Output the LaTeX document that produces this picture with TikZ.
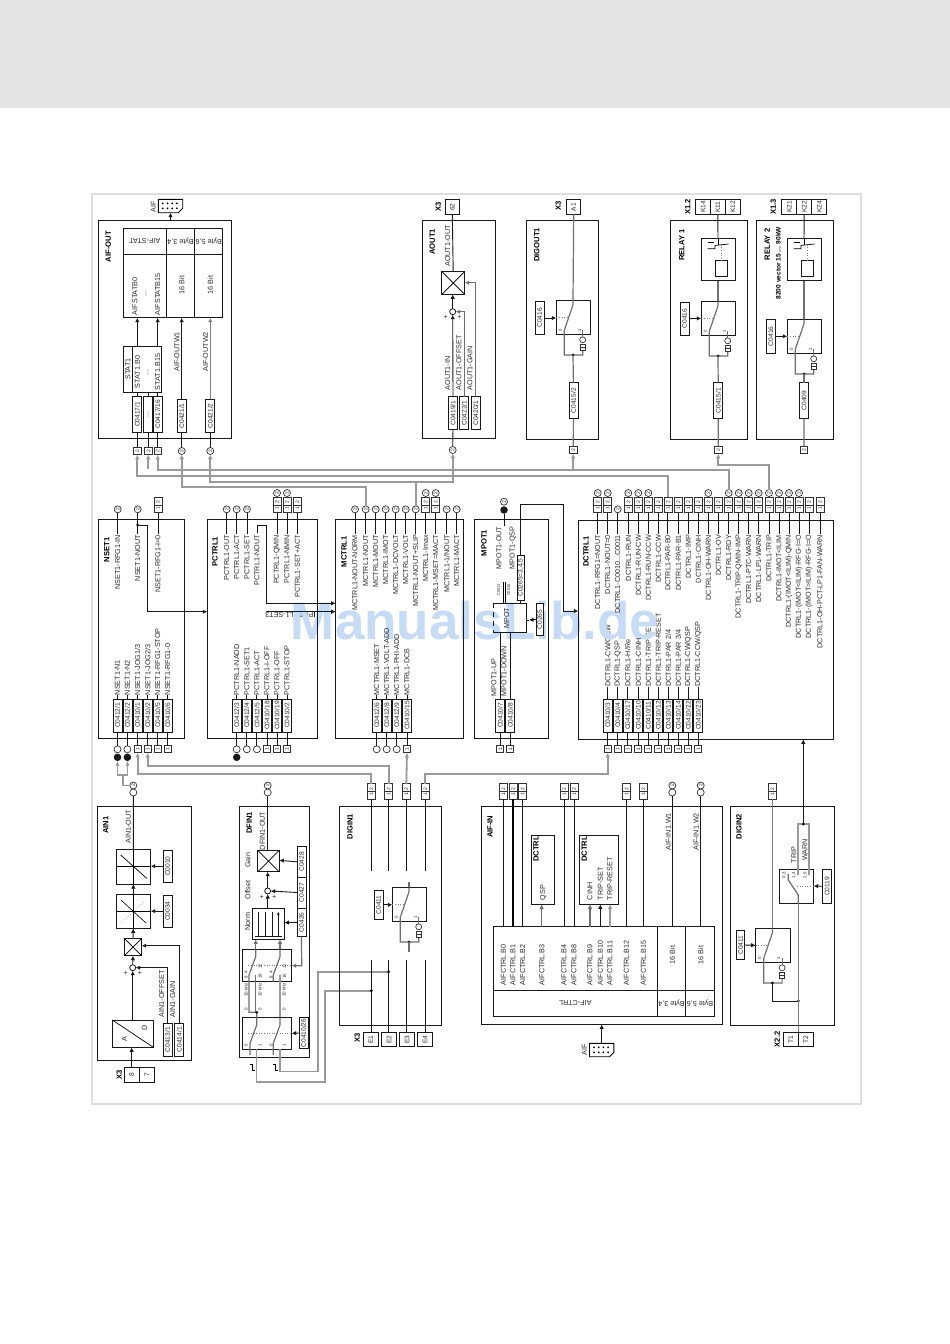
\documentclass[tikz,border=0pt]{standalone}
\usepackage{fontspec}
\usepackage{graphicx}
\setmainfont{Liberation Sans}
\usetikzlibrary{arrows.meta,calc}
\definecolor{txt}{HTML}{2A2A2A}
\definecolor{gy}{HTML}{9A9A9A}
\definecolor{swg}{HTML}{707070}
\definecolor{band}{HTML}{E4E4E4}
\definecolor{framec}{HTML}{DEDEDE}
\definecolor{wm}{HTML}{C6DCF6}
\newcount\nn
\tikzset{
 x=1pt,y=-1pt,
 ln/.style={line width=.9pt,color=black!90},
 gl/.style={line width=1.8pt,color=gy},
 swl/.style={line width=1.2pt,color=swg},
 arr/.style={-{Latex[length=4.5pt,width=4.5pt]}},
 blockb/.style={draw=black!90,line width=.9pt,inner sep=0pt,outer sep=0pt},
 cbox/.style={draw=black!90,line width=.8pt,inner sep=0pt,outer sep=0pt,fill=white,text=txt,font=\fontsize{6.6}{7}\selectfont},
 lab/.style={inner sep=0pt,outer sep=0pt,text=txt,font=\fontsize{7.2}{8}\selectfont},
 smalllab/.style={inner sep=0pt,text=txt,font=\fontsize{4.4}{5}\selectfont,rotate=90},
 bd/.style={inner sep=0pt,text=black,font=\fontsize{7.6}{8}\selectfont\bfseries,rotate=90},
 mk/.style={draw=black!80,line width=.7pt,inner sep=0pt,outer sep=0pt,fill=white,text=txt,font=\fontsize{5}{5}\selectfont},
 dotn/.style={circle,fill=black,inner sep=0pt,outer sep=0pt,minimum size=3pt},
 sumn/.style={circle,draw=black!90,line width=.8pt,fill=white,inner sep=0pt,outer sep=0pt,minimum size=6pt},
}
\newcommand\LabT[3]{\global\advance\nn by 1\relax\node[lab,rotate=90,anchor=east] (t\the\nn) at (#1,#2) {#3};}
\newcommand\LabB[3]{\global\advance\nn by 1\relax\node[lab,rotate=90,anchor=west] (t\the\nn) at (#1,#2) {#3};}
\newcommand\LabC[3]{\global\advance\nn by 1\relax\node[lab,rotate=90] (t\the\nn) at (#1,#2) {#3};}
\newcommand\LabU[3]{\global\advance\nn by 1\relax\node[lab,rotate=180] (t\the\nn) at (#1,#2) {#3};}
\newcommand\Bd[3]{\global\advance\nn by 1\relax\node[bd] (t\the\nn) at (#1,#2) {#3};}
\newcommand\Tiny[3]{\global\advance\nn by 1\relax\node[smalllab] (t\the\nn) at (#1,#2) {#3};}
\newcommand\CB[6][9]{\pgfmathsetmacro\hh{#5-#4}\pgfmathsetmacro\yy{(#4+#5)/2}\node[cbox,minimum width=#1pt,minimum height=\hh pt] (#2) at (#3,\yy) {\rotatebox{90}{#6}};}
\newcommand\Blk[5]{\pgfmathsetmacro\ww{#4-#2}\pgfmathsetmacro\hh{#5-#3}\pgfmathsetmacro\xx{(#2+#4)/2}\pgfmathsetmacro\yy{(#3+#5)/2}\node[blockb,minimum width=\ww pt,minimum height=\hh pt] (#1) at (\xx,\yy) {};}
\newcommand\MkO[3]{\node[mk,circle,minimum size=7pt] (#1) at (#2,#3) {};}
\newcommand\MkT[3]{\node[mk,circle,minimum size=7pt] (#1) at (#2,#3) {\rotatebox{90}{2}};}
\newcommand\MkF[3]{\node[circle,fill=black!90,inner sep=0pt,outer sep=0pt,minimum size=7.5pt] (#1) at (#2,#3) {};}
\newcommand\MkI[3]{\node[mk,minimum size=7pt] (#1) at (#2,#3) {\rotatebox{90}{1}};}
\newcommand\MkZ[3]{\node[mk,minimum size=7.5pt] (#1) at (#2,#3) {\rotatebox{90}{2}};}
\newcommand\MkW[3]{\node[mk,minimum width=8pt,minimum height=15.5pt] (#1) at (#2,#3) {\rotatebox{90}{1\hspace{2.5pt}2}};\draw[line width=.6pt,color=black!80] (#1.west)--(#1.east);}
\newcommand\Term[5]{\pgfmathsetmacro\ww{#3-#2}\pgfmathsetmacro\xx{(#2+#3)/2}\node[cbox,minimum width=\ww pt,minimum height=14.6pt] (#1) at (\xx,#4) {\rotatebox{90}{#5}};}
\newcommand\InB[6]{\CB{#1}{#2}{699}{732}{#3}\LabB{#2}{#5}{#4}\draw[ln](#1.north)--(#2,#5);#6{#1m}{#2}{749.3}\draw[ln](#1.south)--(#1m.north);}
\newcommand\Ot[3]{\MkT{#1}{#2}{509.3}\LabT{#2}{535}{#3}\draw[ln](#1.south)--(#2,534);}
\newcommand\OtW[3]{\MkW{#1}{#2}{505}\LabT{#2}{535}{#3}\draw[ln](#1.south)--(#2,534);}
\newcommand\OtC[3]{\MkW{#1}{#2}{505}\MkT{#1c}{#2}{493}\LabT{#2}{535}{#3}\draw[ln](#1.south)--(#2,534);}
\newcommand\SwU[3]{\begin{scope}[shift={(#2,#3)}]
\node[blockb,minimum width=34.4pt,minimum height=34pt,anchor=north west] (#1) at (0,0) {};
\coordinate (#1t) at (16.7,0);\coordinate (#1b) at (16.7,54.7);\coordinate (#1l) at (0,17);
\draw[swl] (16.7,0)--(16.7,4.5)--(8,30)--(8,54.7)--(26.4,54.7)--(26.4,49.7);
\draw[line width=.6pt,color=gray,dotted] (0,17)--(12,17);
\draw[line width=.7pt,color=swg] (26.4,30)--(26.4,36.5);
\node[mk,circle,minimum size=6pt] (#1c) at (26.4,39.5) {};
\node[mk,minimum width=5pt,minimum height=6pt] (#1k) at (26.4,46.7) {};
\draw[line width=.5pt,color=black!80] (#1k.west)--(#1k.east);
\node[dotn] (#1d) at (16.7,54.7) {};
\Tiny{4}{29.5}{0}\Tiny{23}{29.5}{1}
\end{scope}}
\newcommand\RelU[3]{\begin{scope}[shift={(#2,#3)}]
\node[blockb,minimum width=34.4pt,minimum height=42pt,anchor=north west] (#1) at (0,0) {};
\node[blockb,minimum width=12.4pt,minimum height=16pt,anchor=north west] (#1q) at (14,22) {};
\draw[line width=.7pt] (6.3,4)--(13,4);
\draw[line width=.7pt] (6.3,10)--(13.7,10)--(13.7,6.7)--(27.3,5.3);
\draw[line width=.7pt] (16.7,0)--(16.7,6);
\draw[line width=.6pt,color=gray,dotted] (20.3,6)--(20.3,22);
\coordinate (#1t) at (16.7,0);\coordinate (#1b) at (16.7,42);
\end{scope}}
\newcommand\Conn[3]{\begin{scope}[shift={(#2,#3)}]
\draw[line width=.9pt,fill=white] (0,0)--(24.4,0)--(24.4,9)--(20,13.4)--(0,13.4)--cycle;
\foreach \xa in {4.5,9.2,13.9,18.6}{\fill (\xa,4)circle(1pt);\fill (\xa,9)circle(1pt);}
\coordinate (#1t) at (12.2,0);\coordinate (#1b) at (12.2,13.4);
\end{scope}}
\newcommand\Pulse[2]{\begin{scope}[shift={(#1,#2)}]\draw[line width=.7pt] (0,0)--(2.7,0)--(2.7,6)--(5.3,6);\end{scope}}
\begin{document}
\begin{tikzpicture}
\useasboundingbox (0,0) rectangle (950,1344);
\fill[white] (0,0) rectangle (950,1344);
\fill[band] (0,0) rectangle (950,108);
\draw[framec,line width=2pt] (91.5,193.5) rectangle (860.5,1104);
% labels the watermark covers
\LabU{289.3}{615}{PCTRL1-SET3}
\LabB{607.7}{686.5}{DCTRL1-CW/CCW}
\LabB{648.3}{686.5}{DCTRL1-TRIP-SET}
\LabB{658.3}{686.5}{DCTRL1-TRIP-RESET}
\node[inner sep=0pt,text=wm,font=\fontsize{53}{60}\selectfont\bfseries] (wmark) at (475,621) {ManualsLib.de};
%%%%%%% AIF-OUT
\Blk{aifout}{98.3}{220.7}{231.7}{438.3}
\Bd{108.3}{246.7}{AIF-OUT}
\Conn{cona}{158.3}{199.3}
\LabC{153.3}{206.7}{AIF}
\draw[ln,arr] (aifout.north -| conab) -- (conab);
\Blk{aoutt}{123.3}{228.3}{222.7}{317.7}
\draw[ln] (123.3,254.3)--(222.7,254.3) (166.3,228.3)--(166.3,317.7) (194.7,228.3)--(194.7,317.7);
\LabU{144.8}{241}{AIF-STAT}\LabU{180.5}{241}{Byte 3,4}\LabU{208.7}{241}{Byte 5,6}
\LabB{135}{315}{AIFSTATB0}\LabB{157.7}{315}{AIFSTATB15}\LabC{146}{293}{...}
\LabC{181.7}{285}{16 Bit}\LabC{210.3}{285}{16 Bit}
\Blk{stat}{123.3}{346}{161.7}{392.3}
\draw[ln] (132.7,346)--(132.7,392.3);
\LabC{127.8}{369}{STAT1}\LabC{137.3}{372}{STAT1.B0}\LabC{148}{372}{...}\LabC{157.7}{372}{STAT1.B15}
\CB{o1}{137.3}{396}{432.7}{C0417/1}\CB{o2}{148.3}{396}{432.7}{...}\CB{o3}{157.7}{396}{432.7}{C0417/16}
\CB{o4}{181.7}{399.3}{432.3}{C0421/1}\CB{o5}{210.3}{399.3}{432.3}{C0421/2}
\MkZ{mo1}{137.3}{451}\MkZ{mo2}{148.3}{451}\MkZ{mo3}{157.7}{451}\MkT{mo4}{181.7}{451}\MkT{mo5}{210.3}{451}
\foreach \a/\x in {o1/137.3,o2/148.3,o3/157.7}{\draw[ln] (\a.north)--(\x,392.3);}
\foreach \a in {1,2,3,4,5}{\draw[ln] (o\a.south)--(mo\a.north);}
\draw[ln,arr] (137.3,346)--(137.3,317.7);
\draw[ln,arr] (157.7,346)--(157.7,317.7);
\draw[ln,arr] (o4.north)--(181.7,317.7);
\draw[ln,color=gray,arr] (o5.north)--(210.3,317.7);
\LabB{177}{371.7}{AIF-OUTW1}\LabB{205.7}{371.7}{AIF-OUTW2}
%%%%%%% AOUT1
\Blk{aout}{422.3}{220.7}{495.7}{438.3}
\Bd{432.3}{241.7}{AOUT1}\Bd{438.3}{206.7}{X3}
\Term{t62}{445.3}{459.3}{207}{62}
\node[blockb,minimum size=22.6pt,fill=white] (ml) at (453.2,283) {};
\draw[ln] (ml.north west)--(ml.south east) (ml.north east)--(ml.south west);
\node[sumn] (sa) at (452.7,311.7) {};
\draw[ln] (t62.south)--(ml.north);
\draw[ln,arr] (sa.north)--(452.7,294.3);
\CB{a1}{453}{396.7}{429.3}{C0419/1}\CB{a2}{464.3}{396.7}{429.3}{C0422/1}\CB{a3}{475.7}{396.7}{429.3}{C0420/1}
\draw[ln,arr] (a1.north)--(sa.south);
\draw[swl,arr] (a2.north)--(464.3,311.7)--(sa.east);
\draw[swl,arr] (a3.north)--(475.7,282.7)--(464.7,282.7);
\LabB{447.7}{390}{AOUT1-IN}\LabB{459}{390}{AOUT1-OFFSET}\LabB{470}{390}{AOUT1-GAIN}
\LabT{447.7}{225}{AOUT1-OUT}
\node[lab,font=\fontsize{7}{7}\selectfont] (pa1) at (445.7,317.7) {+};\node[lab,font=\fontsize{7}{7}\selectfont] (pa2) at (459.3,317.7) {+};
\MkT{ma}{452.7}{450}\draw[ln] (a1.south)--(ma.north);
%%%%%%% DIGOUT1
\Blk{dgo}{526.3}{220.7}{598.7}{439.3}
\Bd{536.7}{245}{DIGOUT1}\Bd{558.3}{205.7}{X3}
\Term{ta1}{566.7}{580.7}{207}{A1}
\SwU{s1}{556.3}{300.3}
\draw[swl] (ta1.south)--(s1t);
\CB{c416a}{539.5}{301.7}{334.3}{C0416}
\draw[ln,arr] (c416a.east)--(556.3,318);
\CB{c4152}{573.4}{382.7}{418.7}{C0415/2}
\draw[swl] (s1b)--(c4152.north);
\MkZ{md}{573.3}{450}\draw[swl] (c4152.south)--(md.north);
%%%%%%% RELAY 1
\Blk{rl1}{670.3}{220.7}{747.3}{439.3}
\Bd{681.7}{245}{RELAY 1}\Bd{687.7}{206.7}{X1.2}
\Term{k14}{695.7}{710.3}{207}{K14}\Term{k11}{710.3}{725.3}{207}{K11}\Term{k12}{725.3}{740.3}{207}{K12}
\RelU{ru1}{701.3}{238.7}
\SwU{s2}{701.3}{301.3}
\draw[ln] (k11.south)--(ru1t);
\draw[swl] (ru1b)--(s2t);
\CB{c416b}{684.5}{302}{335.3}{C0416}
\draw[ln,arr] (c416b.east)--(701.3,318.3);
\CB{c4151}{718.2}{382.7}{418.7}{C0415/1}
\draw[swl] (s2b)--(c4151.north);
\MkZ{mr1}{718.3}{450}\draw[swl] (c4151.south)--(mr1.north);
%%%%%%% RELAY 2
\Blk{rl2}{756.7}{220.7}{833.7}{439.3}
\Bd{767.3}{244.3}{RELAY 2}\Bd{773.3}{206.7}{X1.3}
\global\advance\nn by 1\relax\node[bd,anchor=east,font=\fontsize{6.6}{7}\selectfont\bfseries] (t\the\nn) at (778.3,226.7) {8200 vector 15 ... 90kW};
\Term{k21}{781.7}{796.7}{207}{K21}\Term{k22}{796.7}{811.7}{207}{K22}\Term{k24}{811.7}{826.7}{207}{K24}
\RelU{ru2}{787.3}{238.7}
\SwU{s3}{787.3}{319.3}
\draw[ln] (k22.south)--(ru2t);
\draw[swl] (ru2b)--(s3t);
\CB{c416c}{770.8}{319.3}{353.3}{C0416}
\draw[ln,arr] (c416c.east)--(787.3,336.3);
\CB{c409}{804}{382.7}{418.7}{C0409}
\draw[swl] (s3b)--(c409.north);
\MkZ{mr2}{803.9}{450}\draw[swl] (c409.south)--(mr2.north);
%%%%%%% NSET1
\Blk{nset}{98.3}{519.3}{184.3}{738.3}
\Bd{106.7}{550}{NSET1}
\Ot{n1}{117.7}{NSET1-RFG1-IN}\Ot{n2}{137.7}{NSET1-NOUT}\OtW{n3}{158}{NSET1-RFG1-I=0}
\InB{i1}{117.5}{C0412/1}{NSET1-N1}{695}{\MkO}\InB{i2}{127.4}{C0412/2}{NSET1-N2}{695}{\MkO}
\InB{i3}{137.6}{C0410/1}{NSET1-JOG1/3}{695}{\MkI}\InB{i4}{147.7}{C0410/2}{NSET1-JOG2/3}{695}{\MkI}
\InB{i5}{157.7}{C0410/5}{NSET1-RFG1-STOP}{695}{\MkI}\InB{i6}{167.7}{C0410/6}{NSET1-RFG1-0}{695}{\MkI}
\MkF{f1}{117.5}{757.3}\MkF{f2}{127.4}{757.3}
%%%%%%% PCTRL1
\Blk{pctrl}{207.3}{519.3}{317.7}{738.3}
\Bd{215}{551.7}{PCTRL1}
\Ot{p1}{226.7}{PCTRL1-OUT}\Ot{p2}{236.7}{PCTRL1-ACT}\Ot{p3}{247}{PCTRL1-SET}
\LabT{257}{535}{PCTRL1-NOUT}
\OtC{p5}{277}{PCTRL1-QMIN}\OtC{p6}{287}{PCTRL1-NMIN}\OtW{p7}{297.3}{PCTRL1-SET+ACT}
\InB{j1}{236.7}{C0412/3}{PCTRL1-NADD}{695}{\MkO}\InB{j2}{246.8}{C0412/4}{PCTRL1-SET1}{695}{\MkO}
\InB{j3}{256.9}{C0412/5}{PCTRL1-ACT}{695}{\MkO}\InB{j4}{267}{C0410/18}{PCTRL1-I-OFF}{695}{\MkI}
\InB{j5}{277}{C0410/19}{PCTRL1-OFF}{695}{\MkI}\InB{j6}{287}{C0410/2}{PCTRL1-STOP}{695}{\MkI}
\MkF{f3}{236.7}{757.3}
%%%%%%% MCTRL1
\Blk{mctrl}{335.7}{519.3}{463.7}{738.3}
\Bd{344}{551.7}{MCTRL1}
\Ot{m1}{355}{MCTRL1-NOUT-NORM}\Ot{m2}{365.7}{MCTRL1-NOUT}\Ot{m3}{375.7}{MCTRL1-MOUT}\Ot{m4}{385.7}{MCTRL1-IMOT}
\Ot{m5}{395.7}{MCTRL1-DCVOLT}\Ot{m6}{405.7}{MCTRL1-VOLT}\Ot{m7}{415.7}{MCTRL1-NOUT+SLIP}
\OtC{m8}{425.7}{MCTRL1-Imax}\OtC{m9}{435.7}{MCTRL1-MSET=MACT}\Ot{m10}{446.7}{MCTRL1-1/NOUT}\Ot{m11}{456.7}{MCTRL1-MACT}
\InB{k1}{376.7}{C0412/6}{MCTRL1-MSET}{695}{\MkO}\InB{k2}{386.7}{C0412/8}{MCTRL1-VOLT-ADD}{695}{\MkO}
\InB{k3}{396.7}{C0412/9}{MCTRL1-PHI-ADD}{695}{\MkO}\InB{k4}{407}{C0410/15}{MCTRL1-DCB}{695}{\MkI}
%%% internal PCTRL links
\coordinate (nout) at (257,533);
\draw[ln,arr] (nout)--(257,525)--(266,525)--(266,603.3)--(mctrl.west |- 0,603.3);
\draw[ln,arr] (266,611.7)--(mctrl.west |- 0,611.7);
\draw[ln] (314,611.7)--(314,617);
\node[dotn] (ndot) at (137.7,525) {};
\draw[ln,arr] (ndot)--(147.3,525)--(147.3,611.7)--(pctrl.west |- 0,611.7);
%%%%%%% MPOT1
\Blk{mpot}{474.3}{519.3}{548.7}{738.3}
\Bd{484}{543}{MPOT1}
\MkT{q1}{504}{501.7}\MkF{q1f}{504}{510}
\LabT{499}{526.7}{MPOT1-OUT}\LabT{512.7}{526.7}{MPOT1-QSP}
\draw[ln] (q1f.south)--(504,526);
\draw[line width=.6pt] (503,582)--(503,603) (505,582)--(505,603);
\node[smalllab,font=\fontsize{4}{4}\selectfont] (q01) at (498.5,590) {C0011};
\node[smalllab,font=\fontsize{4}{4}\selectfont] (q02) at (508.7,590) {C0010};
\draw[ln] (493.3,603)--(526,603)--(526,632)--(493.3,632);
\draw[ln,dashed,dash pattern=on 5pt off 4pt] (493.3,603)--(493.3,632);
\LabC{506.7}{618}{MPOT}
\CB[7.5]{q265}{520.8}{555}{600}{C0265=3,4,5}
\draw[ln] (q265.south)--(520.8,603);
\draw[ln] (q265.north)--(520.8,504)--(563.3,504)--(563.3,611)--(570,611);
\CB[7.5]{q265b}{539.7}{603.3}{635.7}{C0265}
\draw[ln,arr] (q265b.west)--(529,620);\draw[ln] (529,620)--(526,620);
\CB{u7}{500.3}{699}{732}{C0410/7}\CB{u8}{510.3}{699}{732}{C0410/8}
\draw[ln] (u7.north)--(500.3,632) (u8.north)--(510.3,632);
\LabB{494}{696}{MPOT1-UP}\LabB{504}{696}{MPOT1-DOWN}
\MkI{u7m}{500.3}{749.3}\MkI{u8m}{510.3}{749.3}
\draw[ln] (u7.south)--(u7m.north) (u8.south)--(u8m.north);
%%%%%%% DCTRL1
\Blk{dctrl}{578.3}{520.7}{833.3}{739.3}
\Bd{586}{551.7}{DCTRL1}
\draw[ln,arr] (570,611)--(dctrl.west |- 0,611);
\OtC{d0}{597.7}{DCTRL1-RFG1=NOUT}\OtC{d1}{607.7}{DCTRL1-NOUT=0}\Ot{d2}{617.7}{DCTRL1-C0010...C0011}
\OtC{d3}{628.3}{DCTRL1-RUN}\OtC{d4}{638.3}{DCTRL1-RUN-CW}\OtC{d5}{648.3}{DCTRL1-RUN-CCW}
\OtW{d6}{658.3}{DCTRL1-CCW}\OtW{d7}{667.9}{DCTRL1-PAR-B0}\OtW{d8}{678.3}{DCTRL1-PAR-B1}
\OtW{d9}{688.3}{DCTRL1-IMP}\OtW{d10}{698.3}{DCTRL1-CINH}\OtC{d11}{708.3}{DCTRL1-OH-WARN}
\OtW{d12}{718.3}{DCTRL1-OV}\OtC{d13}{728.7}{DCTRL1-RDY}\OtC{d14}{738.7}{DCTRL1-TRIP-QMIN-IMP}
\OtC{d15}{748.7}{DCTRL1-PTC-WARN}\OtC{d16}{758.7}{DCTRL1-LP1-WARN}\OtC{d17}{769}{DCTRL1-TRIP}
\OtC{d18}{779}{DCTRL1-IMOT<ILIM}\OtC{d19}{789}{DCTRL1-(IMOT<ILIM)-QMIN}\OtC{d20}{799}{DCTRL1-(IMOT<ILIM)-RFG-I=O}
\OtW{d21}{809}{DCTRL1-(IMOT>ILIM)-RFG-I=O}\OtW{d22}{820}{DCTRL1-OH-PCT-LP1-FAN-WARN}
\newcommand\DI[3]{\CB{#1}{#2}{699}{732}{#3}\MkI{#1m}{#2}{749.3}\draw[ln](#1.south)--(#1m.north);\draw[ln](#1.north)--(#2,687);}
\DI{e1}{607.7}{C0410/3}\DI{e2}{617.7}{C0410/4}\DI{e3}{627.7}{C0410/17}\DI{e4}{638.3}{C0410/10}\DI{e5}{648.3}{C0410/11}
\DI{e6}{658.3}{C0410/12}\DI{e7}{668.3}{C0410/13}\DI{e8}{678.3}{C0410/14}\DI{e9}{688.3}{C0410/22}\DI{e10}{698.3}{C0410/23}
\LabB{617.7}{686.5}{DCTRL1-QSP}\LabB{627.7}{686.5}{DCTRL1-H/Re}\LabB{638.3}{686.5}{DCTRL1-CINH}
\LabB{668.3}{686.5}{DCTRL1-PAR 2/4}\LabB{678.3}{686.5}{DCTRL1-PAR 3/4}\LabB{688.3}{686.5}{DCTRL1-CW/QSP}\LabB{698.3}{686.5}{DCTRL1-CCW/QSP}
%%%%%%% gray bus above
\draw[gl,arr] (d13c.north)--(728.7,470)--(157.7,470)--(mo3.south);
\draw[gl,arr] (573.3,470)--(md.south);
\draw[gl,arr] (148.3,469)--(mo2.south);
\draw[gl,arr] (d7.north)--(667.9,475.7)--(137.3,475.7)--(mo1.south);
\draw[gl,arr] (m7.north)--(415.7,481.7)--(210.3,481.7)--(mo5.south);
\draw[gl,arr] (415.7,481.7)--(452.7,481.7)--(ma.south);
\draw[gl,arr] (m2.north)--(365.7,487)--(181.7,487)--(mo4.south);
\draw[gl,arr] (d17c.north)--(769,465)--(718.3,465)--(mr1.south);
%%%%%%% AIN1
\Blk{ain}{97.3}{806.7}{191.7}{1060.7}
\Bd{105.7}{825}{AIN1}
\MkT{ao}{133.3}{785.5}\MkO{ao2}{133.3}{792.5}
\LabT{128.3}{810}{AIN1-OUT}
\Blk{b1}{116}{849.3}{150.7}{884}\Blk{b2}{116}{894.3}{150.7}{928.3}
\draw[ln] (ao2.south)--(b1.north);
\draw[line width=.7pt] (116,866.6)--(150.7,866.6) (133.3,849.3)--(133.3,884);
\draw[line width=.7pt] (120.7,855)--(146.7,878.3);
\draw[line width=.7pt] (116,911.3)--(150.7,911.3) (133.3,894.3)--(133.3,928.3);
\draw[line width=.6pt] (121,900)--(146,923);
\draw[line width=.5pt,color=gray,dotted] (121,923)--(146,900);
\node[blockb,minimum size=17.4pt] (b3) at (133,947) {};
\draw[line width=.7pt] (b3.north west)--(b3.south east) (b3.north east)--(b3.south west);
\node[sumn] (b4) at (132.7,967.7) {};
\Blk{ad}{112.3}{1020}{153.3}{1047.3}
\draw[line width=.7pt] (ad.north west)--(ad.south east);
\LabC{124.3}{1039.3}{A}\LabC{144.3}{1028.3}{D}
\draw[ln,arr] (b2.north)--(b1.south);\draw[ln,arr] (b3.north)--(b2.south);\draw[ln,arr] (b4.north)--(b3.south);
\draw[ln,arr] (ad.north -| b4)--(b4.south);
\CB{c10}{167.5}{850}{882.3}{C0010}\CB{c34}{167.5}{895}{927.3}{C0034}
\CB{c413}{167.5}{1023.3}{1056}{C0413/1}\CB{c414}{179.2}{1023.3}{1056}{C0414/1}
\draw[ln,arr] (c10.west)--(b1.east |- c10.west);\draw[ln,arr] (c34.west)--(b2.east |- c34.west);
\draw[ln,arr] (c413.north)--(167.5,967.7)--(b4.east);
\draw[ln,arr] (c414.north)--(179.2,945.7)--(141.7,945.7);
\LabB{161.7}{1017}{AIN1-OFFSET}\LabB{172.7}{1017}{AIN1-GAIN}
\node[lab] (pb1) at (125.7,973) {+};\node[lab] (pb2) at (140,973) {+};
\Bd{119.3}{1075}{X3}
\Term{t8}{124}{139.3}{1075}{8}\Term{t7}{139.3}{154.3}{1075}{7}
\draw[ln,arr] (t8.north)--(ad.south -| t8);
%%% AIN gray fork
\draw[gl] (ao.west)--(122.7,785.5)--(122.7,775);
\draw[gl,arr] (122.7,775)--(117.5,775)--(f1.south);
\draw[gl,arr] (122.7,775)--(127.4,775)--(f2.south);
%%%%%%% DFIN1
\Blk{dfin}{239.3}{806.7}{309.3}{1057.3}
\Bd{249.3}{823}{DFIN1}
\MkT{go}{267.7}{785.5}\MkO{go2}{267.7}{792.5}
\LabT{262.3}{811.7}{DFIN1-OUT}
\node[blockb,minimum size=21.5pt] (g1) at (268.5,861) {};
\draw[line width=.7pt] (g1.north west)--(g1.south east) (g1.north east)--(g1.south west);
\draw[ln] (go2.south)--(g1.north -| go2);
\node[sumn] (g2) at (267.7,891) {};
\Blk{g3}{252.3}{908}{284.3}{939.3}
\draw[ln,arr] (g2.north)--(267.7,871.7);
\draw[ln,arr] (267.7,908)--(g2.south);
\LabC{247.7}{860}{Gain}\LabC{247.7}{890}{Offset}\LabC{247.7}{921.7}{Norm}
\node[lab] (pg1) at (261.7,897.3) {+};\node[lab] (pg2) at (274.3,897.3) {+};
\CB{g28}{301.5}{846.7}{877}{C0428}\CB{g27}{301.5}{877}{908}{C0427}\CB{g26}{301.5}{908}{936.7}{C0426}
\draw[ln,arr] (g28.west)--(279.3,860.3);
\draw[ln,arr] (g27.west)--(g2.east);
\draw[ln,arr] (g26.west)--(284.3,922.7);
\draw[ln] (255,936)--(281.7,936) (258.3,936)--(258.3,911.7) (265,936)--(265,911.7) (272.3,936)--(272.3,911.7);
\draw[ln,-{Latex[length=3pt,width=3pt]}] (278.3,936)--(278.3,911.7);
\Blk{g4}{242.3}{949.3}{291.7}{981.7}
\Blk{g5}{242.3}{1017.3}{291.7}{1049}
\draw[swl,arr] (255.7,949.3)--(255.7,939.3);
\draw[swl,arr] (280,949.3)--(280,939.3);
\draw[line width=.6pt,color=gray,dotted] (248.3,965.7)--(291.7,965.7) (248.3,1033.3)--(291.7,1033.3);
\draw[swl,arr] (g26.south)--(301.7,965.7)--(291.7,965.7);
\draw[swl] (255.7,949.3)--(255.7,956.7)--(249,975)--(249,1012.3)--(256.7,1012.3)--(256.7,1017.3);
\draw[swl] (255.7,975)--(255.7,1012.3);
\node[dotn] (gd) at (256.7,1012.3) {};
\draw[swl] (280,949.3)--(280,956.7)--(273.3,975)--(273.3,981.7);
\draw[line width=1.4pt,color=gy] (280,975)--(280,1017.3);
\draw[swl] (256.7,1017.3)--(256.7,1025)--(250,1043.3)--(250,1055);
\draw[swl] (280,1017.3)--(280,1025)--(273.3,1043.3)--(273.3,1055);
\CB{g26b}{303.5}{1017.7}{1048.3}{C0410/26}
\draw[ln,arr] (g26b.west)--(291.7,1033.3);
\foreach \xx/\yy/\tt in {246/972/4,246/977/8,260/966/12,260/976/16,271/972/4,271/977/8,284.3/966/12,284.3/976/16,246/1045/0,260/1045/1,271/1045/0,284.3/1045/1,246/1009/0,246/990/10 kHz,260/1009/0,260/990/10 kHz,284/1009/0,284/990/10 kHz}{\Tiny{\xx}{\yy}{\tt}}
\Pulse{249.7}{1064}\Pulse{273}{1064}
\draw[gl] (256.5,1049)--(256.5,1082)--(325,1082)--(325,990.7)--(371.3,990.7);
\draw[gl] (280,1049)--(280,1071.5)--(318.3,1071.5)--(318.3,971.7)--(388.7,971.7);
%%%%%%% DIGIN1
\Blk{dig1}{339.3}{806.7}{441.7}{1025.7}
\Bd{350}{826.7}{DIGIN1}\Bd{357.3}{1038.3}{X3}
\MkW{g1t}{371.3}{791.5}\MkW{g2t}{388.7}{791.5}\MkW{g3t}{406.3}{791.5}\MkW{g4t}{425.3}{791.5}
\foreach \a/\x in {g1t/371.3,g2t/388.7,g3t/406.3,g4t/425.3}{\draw[ln] (\a.south)--(\x,870.7);}
\Term{ee1}{363.3}{378.3}{1039.5}{E1}\Term{ee2}{381.7}{396.3}{1039.5}{E2}\Term{ee3}{399.3}{414.7}{1039.5}{E3}\Term{ee4}{417.7}{432.7}{1039.5}{E4}
\draw[ln] (ee1.north -| 371.3,0)--(371.3,960) (ee2.north -| 388.7,0)--(388.7,960) (ee3.north -| 406.3,0)--(406.3,960) (ee4.north -| 425.3,0)--(425.3,960);
\node[dotn] (dg1) at (371.3,990.7) {};\node[dotn] (dg2) at (388.7,971.7) {};
\SwU{s4}{392.3}{887.3}
\draw[swl] (s4t)--++(0,-5);
\draw[swl] (s4b)--++(0,10);
\CB{c411a}{378.5}{890.3}{919.3}{C0411}
\draw[ln,arr] (c411a.east)--(392.3,904.8);
%%% gray to DIGIN / DCTRL
\draw[gl,arr] (g1t.north)--(371.3,774)--(137.6,774)--(i3m.south);
\draw[gl,arr] (g2t.north)--(388.7,766)--(147.7,766)--(i4m.south);
\draw[gl,arr] (g3t.north)--(k4m.south);
\draw[gl,arr] (g4t.north)--(425.3,774)--(607.7,774)--(e1m.south);
%%%%%%% AIF-IN
\Blk{aifin}{481.7}{806.7}{722.3}{1024.3}
\Bd{490}{826.7}{AIF-IN}
\Blk{atab}{493.3}{926.7}{714.3}{1016.7}
\draw[ln] (493.3,990)--(714.3,990) (657.3,926.7)--(657.3,1016.7) (685.7,926.7)--(685.7,1016.7);
\LabU{575.3}{1002.7}{AIF-CTRL}\LabU{671.5}{1003}{Byte 3,4}\LabU{700}{1003}{Byte 5,6}
\LabC{672.3}{955}{16 Bit}\LabC{700.7}{955}{16 Bit}
\foreach \i/\x/\tt in {1/503.3/B0,2/513/B1,3/522.7/B2,4/564/B4,5/574/B8,6/626.5/B12,7/643.3/B15}{
 \MkW{ai\i}{\x}{791.5}\draw[ln] (ai\i.south)--(\x,926.7);\LabB{\x}{985}{AIFCTRL.\tt}}
\draw[line width=2pt] (513,799)--(513,926.7);
\foreach \x/\tt in {542/B3,590/B9,600.3/B10,610/B11}{\LabB{\x}{985}{AIFCTRL.\tt}}
\Blk{dc1}{531.7}{835.3}{554.3}{904.3}\Bd{536}{849}{DCTRL}\LabB{543.3}{900}{QSP}
\Blk{dc2}{579.3}{835.3}{618.3}{904.3}\Bd{584.3}{849}{DCTRL}
\LabB{590}{900}{CINH}\LabB{600.3}{900}{TRIP-SET}\LabB{610}{900}{TRIP-RESET}
\draw[swl,arr] (541.7,926.7)--(541.7,904.3);
\draw[swl,arr] (590,926.7)--(590,904.3);
\draw[ln,arr] (600.3,926.7)--(600.3,904.3);
\draw[gl,arr] (610,926.7)--(610,904.3);
\MkT{aw1}{672.3}{785.5}\MkO{aw1b}{672.3}{792.5}\MkT{aw2}{700.7}{785.5}\MkO{aw2b}{700.7}{792.5}
\draw[ln] (aw1b.south)--(672.3,926.7) (aw2b.south)--(700.7,926.7);
\LabT{668.3}{813}{AIF-IN1.W1}\LabT{696}{813}{AIF-IN1.W2}
\Conn{conb}{589.5}{1043.3}
\LabC{584.3}{1050}{AIF}
\draw[ln,arr] (conbt)--(aifin.south -| conbt);
%%%%%%% DIGIN2
\Blk{dig2}{730.7}{806.7}{834.3}{1025.7}
\Bd{739}{826.7}{DIGIN2}
\MkW{dw}{772.4}{791.5}
\SwU{s5}{755.7}{928.3}
\draw[line width=1.3pt,color=gy!80!black] (dw.south)--(s5t);
\CB[8]{c411b}{740.5}{930.7}{959.3}{C0411}
\draw[ln,arr] (c411b.east)--(755.7,945.3);
\Term{tt1}{783.3}{798.3}{1039.5}{T1}\Term{tt2}{798.3}{813.3}{1039.5}{T2}
\Bd{777.3}{1039.3}{X2.2}
\node[dotn] (dt) at (798.3,1001) {};
\draw[ln] (s5b)--(772.4,1001)--(dt);
\node[blockb,minimum width=34.4pt,minimum height=34pt] (s6) at (796.5,886.3) {};
\draw[line width=1.3pt,color=gy!80!black] (tt1.north east)--(798.3,903.3);
\draw[swl] (798.3,903.3)--(798.3,895)--(788.3,880)--(788.3,874);
\draw[line width=.6pt,color=gray,dotted] (797,886)--(813.7,886);
\CB[9]{c119}{827.2}{869.3}{903.3}{C0119}
\draw[ln,arr] (c119.west)--(813.7,886);
\Tiny{784}{875}{0,3}\Tiny{794}{875}{1,4}\Tiny{805}{875}{2,5}
\draw[line width=1.8pt,color=gy] (797.9,875)--(797.9,824)--(808.6,824)--(808.6,875);
\node[dotn] (dw2) at (803.3,824) {};
\draw[ln,arr] (dw2)--(803.3,739.3);
\LabC{794}{855}{TRIP}\LabC{805}{850}{WARN}
\end{tikzpicture}
\end{document}
